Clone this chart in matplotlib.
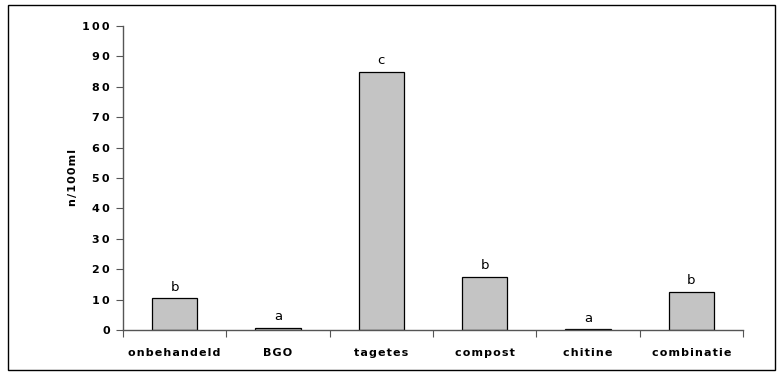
import matplotlib
matplotlib.use("Agg")
import matplotlib.pyplot as plt
from matplotlib.patches import Rectangle

categories = ["onbehandeld", "BGO", "tagetes", "compost", "chitine", "combinatie"]
values = [10.5, 0.7, 85.0, 17.5, 0.2, 12.5]
letters = ["b", "a", "c", "b", "a", "b"]
yticks = [0, 10, 20, 30, 40, 50, 60, 70, 80, 90, 100]
ylabel = "n/100ml"

def spaced(s, sep="\u200a"):
    return sep.join(list(s))

fig = plt.figure(figsize=(7.83, 3.75), dpi=100)
fig.patches.append(Rectangle((8/783, 1 - 370/375), (775-8)/783, (370-5)/375,
                             transform=fig.transFigure, fill=False,
                             edgecolor="black", linewidth=1.0))
ax = fig.add_axes([123/783, 45/375, (743-123)/783, (330-26)/375])

x = list(range(len(categories)))
ax.bar(x, values, width=0.44, color="#c4c4c4", edgecolor="black", linewidth=0.9)
for xi, v, l in zip(x, values, letters):
    ax.text(xi, v + 1.5, l, ha="center", va="bottom", fontsize=9.5, color="black")

ax.set_xlim(-0.5, len(categories) - 0.5)
ax.set_ylim(0, 100)
ax.set_yticks(yticks)
ax.set_yticklabels([spaced(str(t), "\u2009") for t in yticks], fontsize=8, fontweight="bold")
ax.set_xticks([i - 0.5 for i in range(len(categories) + 1)], minor=False)
ax.set_xticklabels([])
ax.set_xticks(x, minor=True)
ax.set_xticklabels([spaced(c) for c in categories], minor=True, fontsize=8, fontweight="bold")
ax.tick_params(axis="x", which="minor", length=0, pad=13)
ax.tick_params(axis="x", which="major", length=5, color="#555555", direction="out")
ax.tick_params(axis="y", length=5, color="#555555", direction="out", pad=4.5)
ax.set_ylabel(spaced(ylabel), fontsize=8, fontweight="bold", labelpad=3)
for s in ["top", "right"]:
    ax.spines[s].set_visible(False)
for s in ["left", "bottom"]:
    ax.spines[s].set_color("#555555")
    ax.spines[s].set_linewidth(1.0)

fig.savefig("out.png", dpi=100)
